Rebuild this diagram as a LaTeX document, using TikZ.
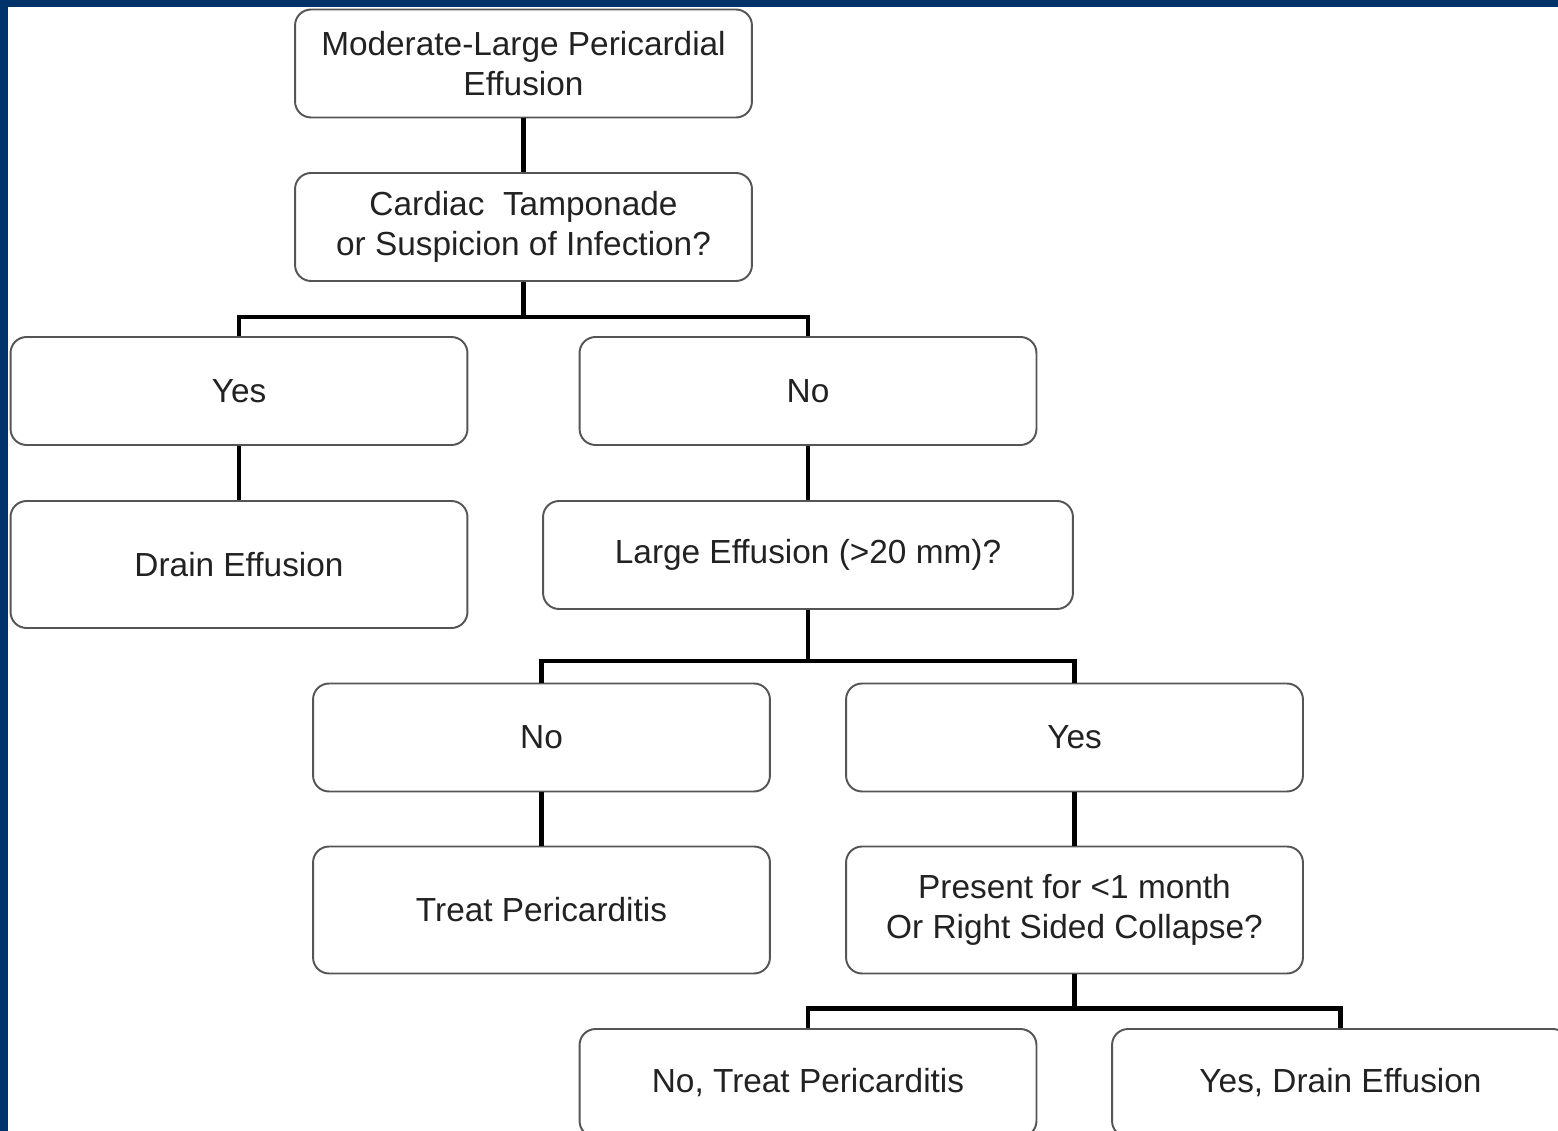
\documentclass[tikz,border=0pt]{standalone}
\usepackage{fontspec}
\setmainfont{Liberation Sans}
\usetikzlibrary{positioning}
\definecolor{pcNavy}{HTML}{00336A}
\definecolor{pcEdge}{HTML}{555555}
\definecolor{pcText}{HTML}{222222}
\tikzset{
  card/.style={rounded corners=0.32cm, draw=pcEdge, line width=1.1pt, fill=white,
               align=center, inner sep=2pt, minimum width=9.14cm, minimum height=2.16cm,
               font=\fontsize{19}{22.8}\selectfont, text=pcText},
  tall/.style={card, minimum height=2.54cm},
  link/.style={draw=black, line width=2.4pt},
}

\begin{document}
\begin{tikzpicture}[x=0.02cm, y=-0.02cm]
  % frame
  \fill[pcNavy] (0,0) rectangle (1558,1131);
  \fill[white] (8,7) rectangle (1558,1131);
  \useasboundingbox (0,0) rectangle (1558,1131);
  \clip (0,0) rectangle (1558,1131);

  % boxes
  \node[card] (effusion) at (523.5,63.5) {Moderate-Large Pericardial\\Effusion};
  \node[card] (tamp) at (523.5,227) {Cardiac\ \ Tamponade\\or Suspicion of Infection?};
  \node[card] (yesA) at (239,391) {Yes};
  \node[card] (noA) at (808,391) {No};
  \node[tall] (drainA) at (239,564.5) {Drain Effusion};
  \node[card, minimum width=10.6cm] (large) at (808,555) {Large Effusion (>20 mm)?};
  \node[card] (noB) at (541.5,737.5) {No};
  \node[card] (yesB) at (1074.5,737.5) {Yes};
  \node[tall] (treat) at (541.5,910) {Treat Pericarditis};
  \node[tall] (present) at (1074.5,910) {Present for <1 month\\Or Right Sided Collapse?};
  \node[card] (noC) at (808,1083) {No, Treat Pericarditis};
  \node[card] (yesC) at (1340.5,1083) {Yes, Drain Effusion};

  % connectors
  \draw[link] (effusion.south) -- (tamp.north);
  \draw[link] (tamp.south) -- ++(0,35) -| (yesA.north);
  \draw[link] (tamp.south) -- ++(0,35) -| (noA.north);
  \draw[link] (yesA.south) -- (drainA.north);
  \draw[link] (noA.south) -- (large.north);
  \draw[link] (large.south) -- ++(0,51) -| (noB.north);
  \draw[link] (large.south) -- ++(0,51) -| (yesB.north);
  \draw[link] (noB.south) -- (treat.north);
  \draw[link] (yesB.south) -- (present.north);
  \draw[link] (present.south) -- ++(0,34) -| (noC.north);
  \draw[link] (present.south) -- ++(0,34) -| (yesC.north);
\end{tikzpicture}
\end{document}
